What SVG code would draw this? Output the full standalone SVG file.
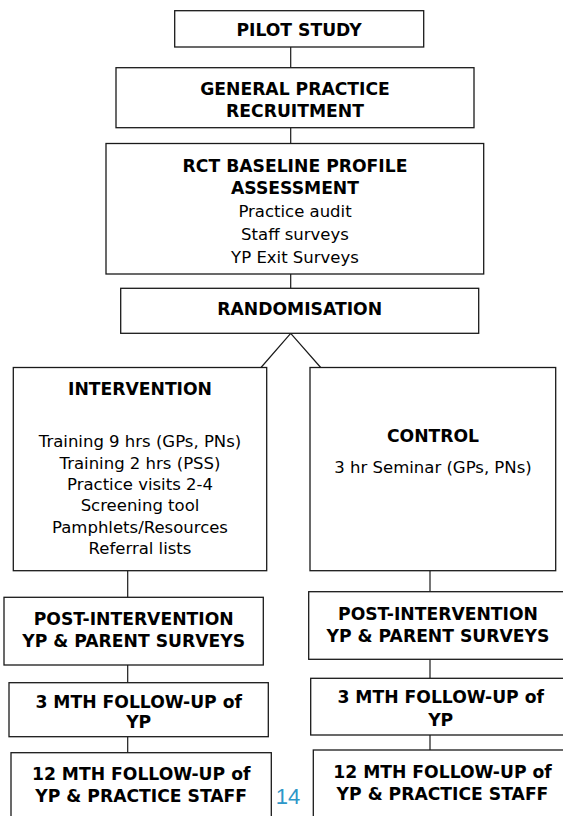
<svg xmlns="http://www.w3.org/2000/svg" width="563" height="816" viewBox="0 0 563 816">
<style>
rect{fill:#fff;stroke:#1a1a1a;stroke-width:1.3}
.c{fill:none;stroke:#1a1a1a;stroke-width:1.2}
text{font-family:"DejaVu Sans",Verdana,sans-serif;text-anchor:middle;fill:#000}
.b{font-weight:bold;font-size:17.2px}
.r{font-size:16.5px}
.pg{font-family:"Liberation Sans",Arial,sans-serif;font-size:22px;fill:#2E97C8;text-anchor:middle}
</style>
<rect x="0" y="0" width="563" height="816" style="stroke:none"/>
<g id="connectors">
<line class="c" x1="290.7" y1="47" x2="290.7" y2="67.7"/>
<line class="c" x1="290.7" y1="127.7" x2="290.7" y2="143.5"/>
<line class="c" x1="290.7" y1="274" x2="290.7" y2="288.3"/>
<polyline class="c" points="261,367.5 290.7,333.3 320.7,367.5"/>
<line class="c" x1="127.7" y1="570.7" x2="127.7" y2="597.3"/>
<line class="c" x1="127.7" y1="665" x2="127.7" y2="682.7"/>
<line class="c" x1="127.7" y1="736.7" x2="127.7" y2="752.7"/>
<line class="c" x1="430" y1="570.7" x2="430" y2="591.7"/>
<line class="c" x1="430" y1="659.3" x2="430" y2="678.3"/>
<line class="c" x1="430" y1="735" x2="430" y2="750"/>
</g>
<g id="pilot">
<rect x="174.7" y="10.7" width="249" height="36.3"/>
<text class="b" x="299" y="35.5">PILOT STUDY</text>
</g>
<g id="recruitment">
<rect x="116" y="67.7" width="358" height="60"/>
<text class="b" x="295" y="95">GENERAL PRACTICE</text>
<text class="b" x="295" y="116.7">RECRUITMENT</text>
</g>
<g id="baseline">
<rect x="106" y="143.5" width="377.7" height="130.5"/>
<text class="b" x="295" y="171.7">RCT BASELINE PROFILE</text>
<text class="b" x="295" y="194">ASSESSMENT</text>
<text class="r" x="295" y="216.7">Practice audit</text>
<text class="r" x="295" y="239.7">Staff surveys</text>
<text class="r" x="295" y="262.7">YP Exit Surveys</text>
</g>
<g id="randomisation">
<rect x="120.7" y="288.3" width="358" height="45"/>
<text class="b" x="299.7" y="315">RANDOMISATION</text>
</g>
<g id="intervention">
<rect x="13.3" y="367.5" width="253.4" height="203.2"/>
<text class="b" x="140" y="395">INTERVENTION</text>
<text class="r" x="140" y="447.3">Training 9 hrs (GPs, PNs)</text>
<text class="r" x="140" y="468.6">Training 2 hrs (PSS)</text>
<text class="r" x="140" y="489.9">Practice visits 2-4</text>
<text class="r" x="140" y="511.2">Screening tool</text>
<text class="r" x="140" y="532.5">Pamphlets/Resources</text>
<text class="r" x="140" y="553.8">Referral lists</text>
</g>
<g id="control">
<rect x="310" y="367.5" width="245.7" height="203.2"/>
<text class="b" x="433" y="441.7">CONTROL</text>
<text class="r" x="433" y="473.3">3 hr Seminar (GPs, PNs)</text>
</g>
<g id="post-int">
<rect x="4" y="597.3" width="259.3" height="67.7"/>
<text class="b" x="133.7" y="625">POST-INTERVENTION</text>
<text class="b" x="133.7" y="646.7">YP &amp; PARENT SURVEYS</text>
</g>
<g id="fu3-int">
<rect x="9" y="682.7" width="259.3" height="54"/>
<text class="b" x="138.7" y="707.7">3 MTH FOLLOW-UP of</text>
<text class="b" x="138.7" y="728.3">YP</text>
</g>
<g id="fu12-int">
<rect x="11" y="752.7" width="260.3" height="80"/>
<text class="b" x="141.2" y="780">12 MTH FOLLOW-UP of</text>
<text class="b" x="141.2" y="801.7">YP &amp; PRACTICE STAFF</text>
</g>
<g id="post-ctl">
<rect x="308.7" y="591.7" width="258.6" height="67.6"/>
<text class="b" x="438" y="620">POST-INTERVENTION</text>
<text class="b" x="438" y="641.7">YP &amp; PARENT SURVEYS</text>
</g>
<g id="fu3-ctl">
<rect x="310.7" y="678.3" width="260" height="56.7"/>
<text class="b" x="440.7" y="703.3">3 MTH FOLLOW-UP of</text>
<text class="b" x="440.7" y="725.7">YP</text>
</g>
<g id="fu12-ctl">
<rect x="313.3" y="750" width="258.4" height="80"/>
<text class="b" x="442.5" y="778.3">12 MTH FOLLOW-UP of</text>
<text class="b" x="442.5" y="800">YP &amp; PRACTICE STAFF</text>
</g>
<text class="pg" x="288" y="804">14</text>
</svg>
